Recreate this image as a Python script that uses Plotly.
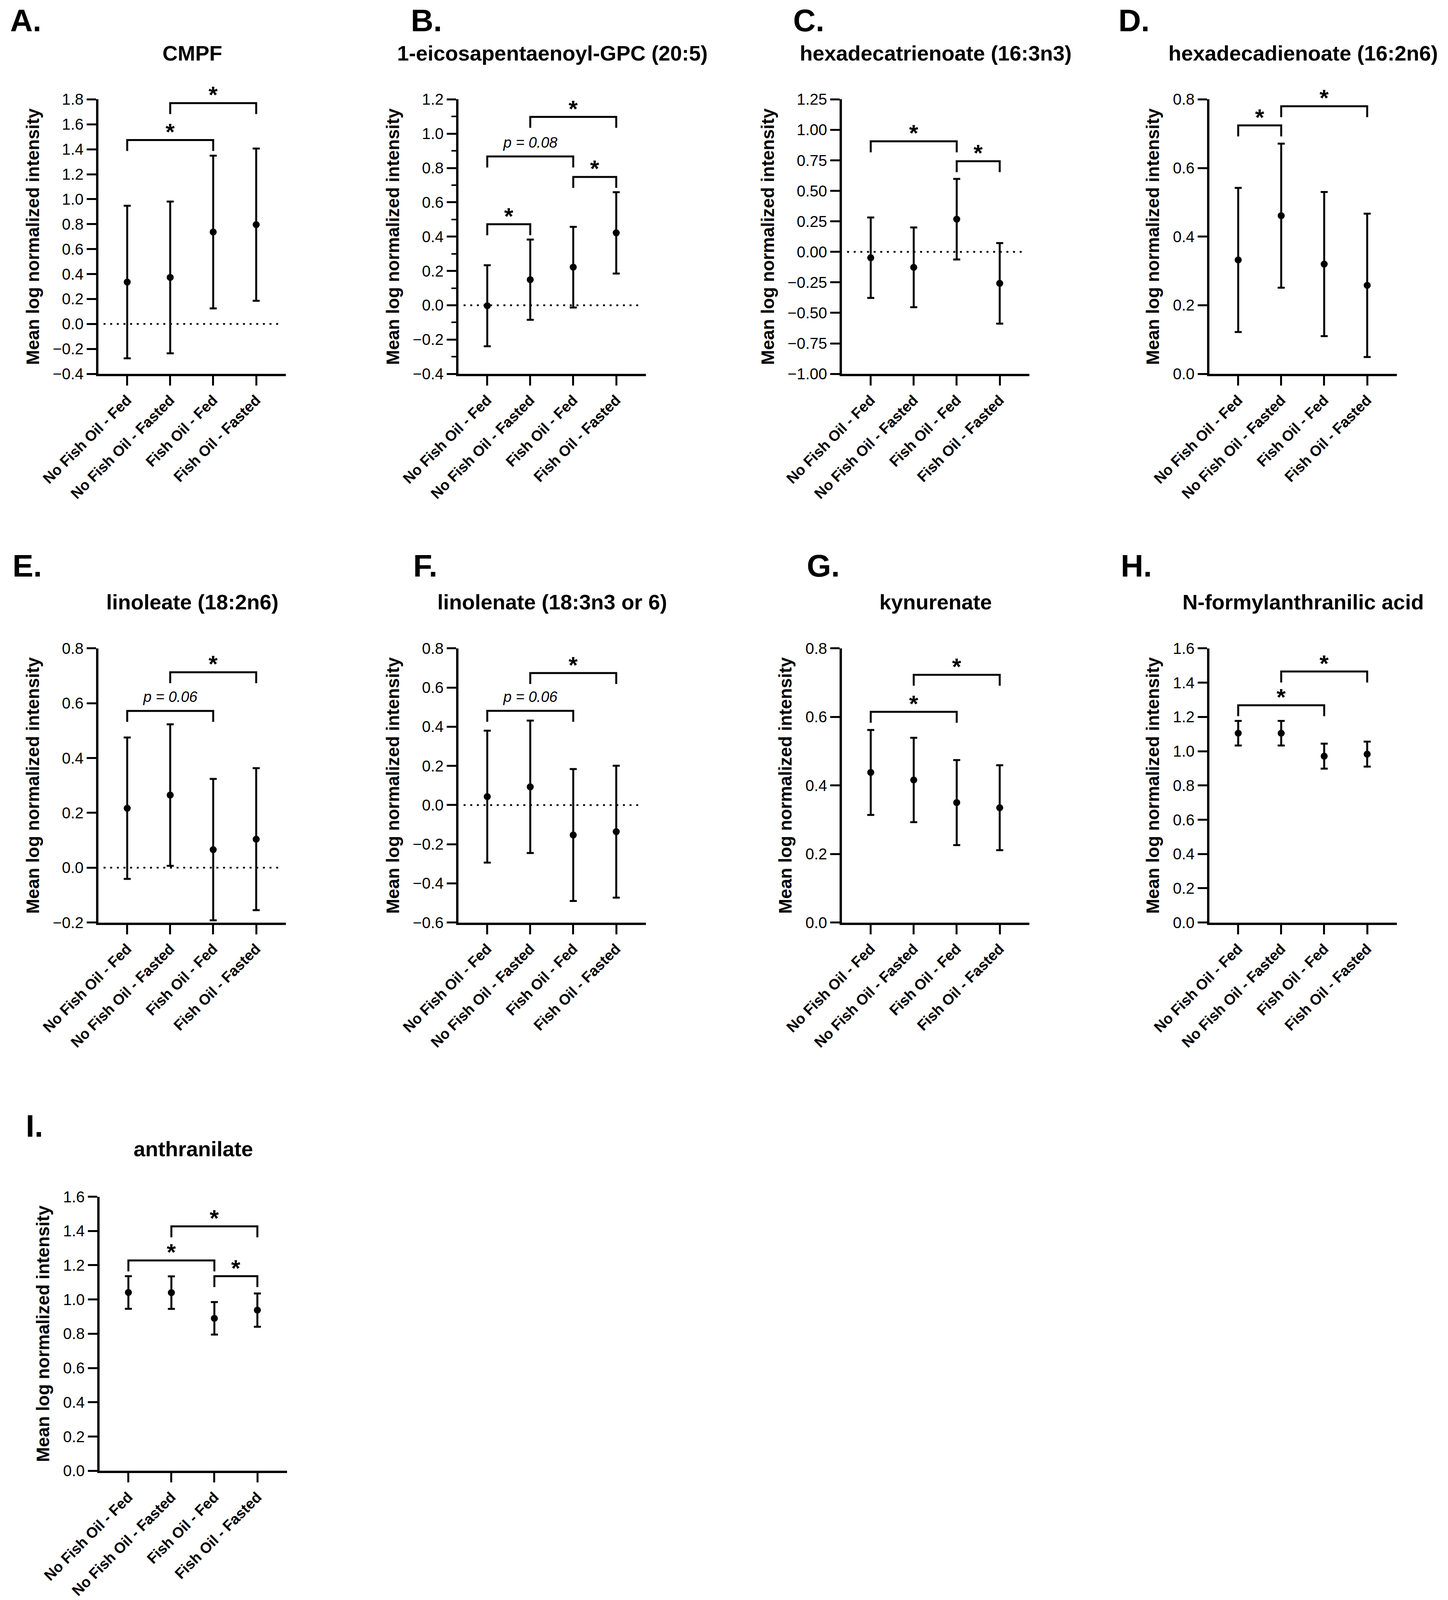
import plotly.graph_objects as go

# group labels shared by every panel
groups = ["No Fish Oil - Fed", "No Fish Oil - Fasted", "Fish Oil - Fed", "Fish Oil - Fasted"]

# means and error (symmetric)
cmpf_mean = [0.336, 0.373, 0.737, 0.796]
cmpf_err = [0.611, 0.608, 0.612, 0.610]

epa_gpc_mean = [-0.003, 0.149, 0.222, 0.422]
epa_gpc_err = [0.236, 0.234, 0.235, 0.237]

hdt_mean = [-0.048, -0.127, 0.268, -0.258]
hdt_err = [0.330, 0.327, 0.330, 0.330]

hdd_mean = [0.332, 0.461, 0.320, 0.258]
hdd_err = [0.210, 0.210, 0.210, 0.209]

linoleate_mean = [0.217, 0.265, 0.066, 0.104]
linoleate_err = [0.258, 0.258, 0.258, 0.259]

linolenate_mean = [0.043, 0.093, -0.153, -0.136]
linolenate_err = [0.337, 0.338, 0.337, 0.337]

kyn_mean = [0.438, 0.416, 0.350, 0.335]
kyn_err = [0.124, 0.123, 0.124, 0.124]

nfa_mean = [1.105, 1.105, 0.971, 0.983]
nfa_err = [0.072, 0.072, 0.073, 0.073]

anth_mean = [1.041, 1.040, 0.890, 0.938]
anth_err = [0.095, 0.095, 0.095, 0.097]

# significance brackets: (from group, to group, bracket height, label)
cmpf_sig = [(0, 2, 1.474, "*"), (1, 3, 1.770, "*")]
epa_gpc_sig = [(0, 1, 0.472, "*"), (0, 2, 0.867, "p = 0.08"), (2, 3, 0.748, "*"), (1, 3, 1.098, "*")]
hdt_sig = [(0, 2, 0.906, "*"), (2, 3, 0.743, "*")]
hdd_sig = [(0, 1, 0.724, "*"), (1, 3, 0.780, "*")]
linoleate_sig = [(0, 2, 0.572, "p = 0.06"), (1, 3, 0.713, "*")]
linolenate_sig = [(0, 2, 0.481, "p = 0.06"), (1, 3, 0.674, "*")]
kyn_sig = [(0, 2, 0.615, "*"), (1, 3, 0.723, "*")]
nfa_sig = [(0, 2, 1.268, "*"), (1, 3, 1.465, "*")]
anth_sig = [(0, 2, 1.228, "*"), (1, 3, 1.427, "*"), (2, 3, 1.136, "*")]

panels = [
    dict(letter="A.", title="CMPF", mean=cmpf_mean, err=cmpf_err, sig=cmpf_sig,
         yr=(-0.4, 1.8), dtick=0.2, fmt=".1f", zero=True, minor=False),
    dict(letter="B.", title="1-eicosapentaenoyl-GPC (20:5)", mean=epa_gpc_mean, err=epa_gpc_err, sig=epa_gpc_sig,
         yr=(-0.4, 1.2), dtick=0.2, fmt=".1f", zero=True, minor=True),
    dict(letter="C.", title="hexadecatrienoate (16:3n3)", mean=hdt_mean, err=hdt_err, sig=hdt_sig,
         yr=(-1.0, 1.25), dtick=0.25, fmt=".2f", zero=True, minor=False),
    dict(letter="D.", title="hexadecadienoate (16:2n6)", mean=hdd_mean, err=hdd_err, sig=hdd_sig,
         yr=(0.0, 0.8), dtick=0.2, fmt=".1f", zero=False, minor=False),
    dict(letter="E.", title="linoleate (18:2n6)", mean=linoleate_mean, err=linoleate_err, sig=linoleate_sig,
         yr=(-0.2, 0.8), dtick=0.2, fmt=".1f", zero=True, minor=False),
    dict(letter="F.", title="linolenate (18:3n3 or 6)", mean=linolenate_mean, err=linolenate_err, sig=linolenate_sig,
         yr=(-0.6, 0.8), dtick=0.2, fmt=".1f", zero=True, minor=False),
    dict(letter="G.", title="kynurenate", mean=kyn_mean, err=kyn_err, sig=kyn_sig,
         yr=(0.0, 0.8), dtick=0.2, fmt=".1f", zero=False, minor=False),
    dict(letter="H.", title="N-formylanthranilic acid", mean=nfa_mean, err=nfa_err, sig=nfa_sig,
         yr=(0.0, 1.6), dtick=0.2, fmt=".1f", zero=False, minor=False),
    dict(letter="I.", title="anthranilate", mean=anth_mean, err=anth_err, sig=anth_sig,
         yr=(0.0, 1.6), dtick=0.2, fmt=".1f", zero=False, minor=False),
]

# positions measured in pixels on the 3708x4348 reference, used as paper fractions
W, H = 3708, 4348
FONT = "Liberation Sans"
col_x = [252, 1174, 2156, 3097]
rows = [(270, 1016), (1762, 2507), (3252, 3997)]
title_y = [144, 1636, 3122]
letter_y = [56, 1538, 3060]
letter_x = [[24, 1050, 2029, 2862], [30, 1056, 2064, 2868], [64]]
plot_w = 480


def fx(p):
    return p / W


def fy(p):
    return 1 - p / H


fig = go.Figure()
annotations = []
shapes = []

for k, p in enumerate(panels):
    r, c = divmod(k, 4)
    n = "" if k == 0 else str(k + 1)
    x0 = col_x[c] if r < 2 else 255
    top, bot = rows[r]
    ymin, ymax = p["yr"]

    fig.add_trace(go.Scatter(
        x=[0, 1, 2, 3], y=p["mean"], mode="markers",
        marker=dict(color="black", size=18),
        error_y=dict(type="data", array=p["err"], color="black", thickness=5, width=9),
        xaxis="x" + n, yaxis="y" + n, showlegend=False))

    leg = 0.04 * (ymax - ymin)
    for i, j, yb, lab in p["sig"]:
        fig.add_trace(go.Scatter(
            x=[i, i, j, j], y=[yb - leg, yb, yb, yb - leg], mode="lines",
            line=dict(color="black", width=5), xaxis="x" + n, yaxis="y" + n,
            showlegend=False, hoverinfo="skip", cliponaxis=False))
        if lab == "*":
            annotations.append(dict(x=(i + j) / 2, y=yb, xref="x" + n, yref="y" + n, text="*",
                                    showarrow=False, yanchor="middle", yshift=21,
                                    font=dict(family=FONT, size=60, color="black", weight="bold")))
        else:
            annotations.append(dict(x=(i + j) / 2, y=yb, xref="x" + n, yref="y" + n, text=lab,
                                    showarrow=False, yanchor="middle", yshift=36,
                                    font=dict(family=FONT, size=38, color="black", style="italic")))

    if p["zero"]:
        shapes.append(dict(type="line", xref="x" + n, yref="y" + n, x0=-0.55, x1=3.57, y0=0, y1=0,
                           line=dict(color="black", width=4.5, dash="5px,12px")))

    ax = dict(domain=[fx(x0), fx(x0 + plot_w)], anchor="y" + n, range=[-0.67, 3.69],
              tickmode="array", tickvals=[0, 1, 2, 3], ticktext=groups, tickangle=-45,
              showline=True, linewidth=6, linecolor="black", ticks="outside", ticklen=24,
              tickwidth=5, tickcolor="black", showgrid=False, zeroline=False, automargin=False,
              tickfont=dict(family=FONT, size=38, color="black", weight="bold"))
    ay = dict(domain=[fy(bot), fy(top)], anchor="x" + n, range=[ymin, ymax],
              tick0=ymin, dtick=p["dtick"], tickformat=p["fmt"],
              showline=True, linewidth=6, linecolor="black", ticks="outside", ticklen=24,
              tickwidth=5, tickcolor="black", showgrid=False, zeroline=False, automargin=False,
              tickfont=dict(family=FONT, size=40, color="black"),
              title=dict(text="Mean log normalized intensity", standoff=22,
                         font=dict(family=FONT, size=46, color="black", weight="bold")))
    if p["minor"]:
        ay["minor"] = dict(dtick=p["dtick"] / 2, ticks="outside", ticklen=12, tickwidth=4,
                           tickcolor="black", showgrid=False)
    fig.update_layout(**{"xaxis" + n: ax, "yaxis" + n: ay})

    annotations.append(dict(x=fx(x0 + plot_w / 2), y=fy(title_y[r]), xref="paper", yref="paper",
                            text=p["title"], showarrow=False, xanchor="center", yanchor="middle",
                            font=dict(family=FONT, size=54, color="black", weight="bold")))
    annotations.append(dict(x=fx(letter_x[r][c]), y=fy(letter_y[r]), xref="paper", yref="paper",
                            text=p["letter"], showarrow=False, xanchor="left", yanchor="middle",
                            font=dict(family=FONT, size=80, color="black", weight="bold")))

fig.update_layout(margin=dict(l=0, r=0, t=0, b=0), autosize=True,
                  paper_bgcolor="white", plot_bgcolor="white",
                  annotations=annotations, shapes=shapes)

# the figure fills the browser window; drop the page margin so nothing scrolls
fig.write_html("out.html", default_width="100vw", default_height="100vh",
               config={"displayModeBar": False},
               post_script="document.body.style.margin='0';document.body.style.overflow='hidden';")
